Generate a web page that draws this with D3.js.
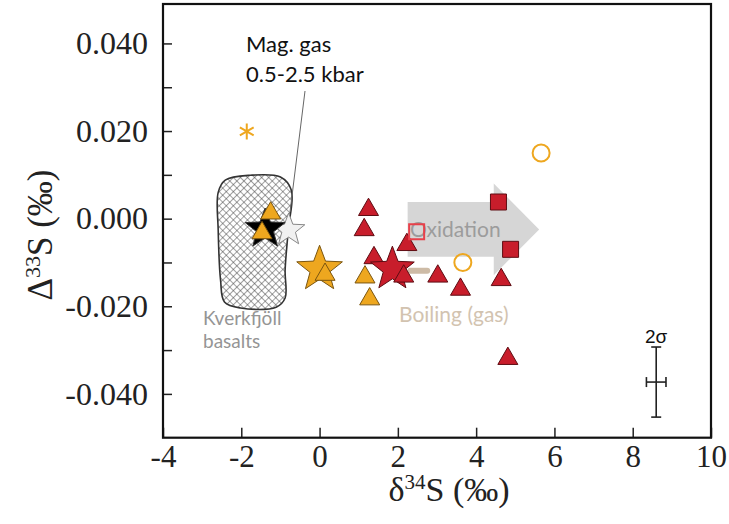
<!DOCTYPE html>
<html>
<head>
<meta charset="utf-8">
<script src="https://cdn.jsdelivr.net/npm/d3@7"></script>
<style>
  body { margin: 0; background: #fff; }
  svg { display: block; }
</style>
</head>
<body>
<div id="chart"></div>
<script>
// d34S vs D33S scatter
var xTicks = [-4, -2, 0, 2, 4, 6, 8, 10],
    yTicks = [0.04, 0.02, 0, -0.02, -0.04],
    yMinor = [0.03, 0.01, -0.01, -0.03];

var orangeTri = [[-1.25, 0.0019], [-1.47, -0.0026], [0.14, -0.0121], [1.16, -0.0127], [1.28, -0.0177]];
var redTri = [[1.25, 0.0027], [1.14, -0.0019], [1.39, -0.0083], [2.23, -0.0053], [3.02, -0.0125],
              [3.60, -0.0155], [4.64, -0.0133], [4.81, -0.0313]];
var redTriFront = [[2.15, -0.0125]];
var orangeStar = [[0.0, -0.011]];
var redStar = [[1.86, -0.011]];
var magGasBlack = [[-1.39, -0.0019]];
var magGasWhite = [[-0.79, -0.0022]];
var redSquare = [[4.57, 0.0038], [4.88, -0.0070]];
var redOpenSquare = [[2.48, -0.0030]];
var orangeCircle = [[5.66, 0.0150], [3.66, -0.0100]];
var orangeAsterisk = [[-1.86, 0.0199]];

// Kverkfjoll basalt field outline
var basaltField = [[-2.41, 0.0088], [-1.77, 0.0099], [-1.00, 0.0095], [-0.72, 0.0065], [-0.80, -0.0026],
                   [-0.88, -0.0117], [-0.88, -0.0181], [-1.11, -0.0202], [-2.02, -0.0204], [-2.43, -0.0190],
                   [-2.53, -0.0140], [-2.59, -0.0026], [-2.59, 0.0060]];
var oxidationArrow = [[2.25, 0.0038], [4.45, 0.0038], [4.45, 0.0080], [5.61, -0.0025],
                      [4.45, -0.0129], [4.45, -0.0087], [2.25, -0.0087]];
var boilingSeg = [[2.32, -0.0119], [2.75, -0.0119]];
// 2 sigma error
var errBar = {x: 8.6, y: -0.0373, sx: 0.25, sy: 0.008};

var width = 729, height = 524;

var svg = d3.select("#chart").append("svg")
    .attr("width", width)
    .attr("height", height);

var x = d3.scaleLinear().domain([-4, 10]).range([163, 711]),
    y = d3.scaleLinear().domain([-0.05, 0.049]).range([437.7, 4]);

var defs = svg.append("defs");
var pat = defs.append("pattern")
    .attr("id", "hatch")
    .attr("patternUnits", "userSpaceOnUse")
    .attr("width", 5).attr("height", 5)
    .attr("patternTransform", "rotate(45)");
pat.append("rect").attr("width", 5).attr("height", 5).attr("fill", "#fff");
pat.append("path").attr("d", "M0,0H5M0,0V5").attr("stroke", "#444").attr("stroke-width", 1);

var sans = "Lato, 'Open Sans', sans-serif",
    serif = "'Liberation Serif', 'Times New Roman', serif";

// basalt field
svg.append("path")
    .datum(basaltField)
    .attr("d", d3.line().x(function(d) { return x(d[0]); }).y(function(d) { return y(d[1]); })
        .curve(d3.curveCatmullRomClosed.alpha(0.5)))
    .attr("fill", "url(#hatch)")
    .attr("stroke", "#333")
    .attr("stroke-width", 1.6);

svg.append("text").attr("x", 203).attr("y", 325)
    .style("font-family", sans).style("font-size", "19px").attr("fill", "#959595")
    .text("Kverkfjöll");
svg.append("text").attr("x", 203).attr("y", 348)
    .style("font-family", sans).style("font-size", "19px").attr("fill", "#959595")
    .text("basalts");

// oxidation arrow
svg.append("path")
    .datum(oxidationArrow)
    .attr("d", d3.line().x(function(d) { return x(d[0]); }).y(function(d) { return y(d[1]); }))
    .attr("fill", "#d2d2d2")
    .attr("opacity", 0.9);
svg.append("text").attr("x", 410).attr("y", 237)
    .style("font-family", sans).style("font-size", "21px").attr("fill", "#9c9c9c")
    .text("Oxidation");

// boiling
svg.append("path")
    .datum(boilingSeg)
    .attr("d", d3.line().x(function(d) { return x(d[0]); }).y(function(d) { return y(d[1]); }))
    .attr("stroke", "#cdbba6").attr("stroke-width", 6).attr("stroke-linecap", "round");
svg.append("text").attr("x", 399).attr("y", 322)
    .style("font-family", sans).style("font-size", "21px").attr("fill", "#d2c3b0")
    .text("Boiling (gas)");

// mag gas label
svg.append("line")
    .attr("x1", 305).attr("y1", 91).attr("x2", 290).attr("y2", 212)
    .attr("stroke", "#666").attr("stroke-width", 1);
svg.append("text").attr("x", 246).attr("y", 52)
    .style("font-family", sans).style("font-size", "22px").attr("fill", "#111")
    .text("Mag. gas");
svg.append("text").attr("x", 246).attr("y", 82)
    .style("font-family", sans).style("font-size", "22px").attr("fill", "#111")
    .text("0.5-2.5 kbar");

// marker shapes
function starPath(R) {
  var r = R * 0.42, p = [];
  for (var i = 0; i < 10; i++) {
    var a = -Math.PI / 2 + i * Math.PI / 5, rr = i % 2 ? r : R;
    p.push([rr * Math.cos(a), rr * Math.sin(a) + R * 0.1]);
  }
  return "M" + p.join("L") + "Z";
}
function triPath(s) {
  var h = s * Math.sqrt(3) / 2;
  return "M0," + (-h / 2) + "L" + (s / 2) + "," + (h / 2) + "L" + (-s / 2) + "," + (h / 2) + "Z";
}
function squarePath(s) {
  return "M" + (-s / 2) + "," + (-s / 2) + "h" + s + "v" + s + "h" + (-s) + "Z";
}

var orange = "#eea71f", orangeEdge = "#7a5510",
    red = "#c81d2b", redEdge = "#5e0c12";

function marks(data, d, fill, stroke, sw) {
  svg.append("g").selectAll("path")
    .data(data)
    .enter().append("path")
      .attr("transform", function(p) { return "translate(" + x(p[0]) + "," + y(p[1]) + ")"; })
      .attr("d", d)
      .attr("fill", fill)
      .attr("stroke", stroke)
      .attr("stroke-width", sw);
}

marks(magGasWhite, starPath(17), "#f1f1f1", "#888", 1);
marks(magGasBlack, starPath(21), "#000", "#333", 1);
marks(orangeTri.slice(0, 2), triPath(20), orange, orangeEdge, 1);
marks(orangeStar, starPath(24), orange, orangeEdge, 1);
marks(orangeTri.slice(2), triPath(20), orange, orangeEdge, 1);
marks(redTri, triPath(20), red, redEdge, 1);
marks(redStar, starPath(23), red, redEdge, 1);
marks(redTriFront, triPath(20), red, redEdge, 1);
marks(redSquare, squarePath(16), red, redEdge, 1);
marks(redOpenSquare, squarePath(15), "none", "#e8404a", 2);

svg.append("g").selectAll("circle")
  .data(orangeCircle)
  .enter().append("circle")
    .attr("cx", function(p) { return x(p[0]); })
    .attr("cy", function(p) { return y(p[1]); })
    .attr("r", 8.5)
    .attr("fill", "none")
    .attr("stroke", orange)
    .attr("stroke-width", 2);

marks(orangeAsterisk,
  "M0,-8V8M-6.9,-4L6.9,4M-6.9,4L6.9,-4", "none", orange, 2);

// 2 sigma bar
var eb = svg.append("g").attr("stroke", "#222").attr("stroke-width", 1.6);
eb.append("line").attr("x1", x(errBar.x)).attr("x2", x(errBar.x))
    .attr("y1", y(errBar.y + errBar.sy)).attr("y2", y(errBar.y - errBar.sy));
eb.append("line").attr("x1", x(errBar.x) - 5).attr("x2", x(errBar.x) + 5)
    .attr("y1", y(errBar.y + errBar.sy)).attr("y2", y(errBar.y + errBar.sy));
eb.append("line").attr("x1", x(errBar.x) - 5).attr("x2", x(errBar.x) + 5)
    .attr("y1", y(errBar.y - errBar.sy)).attr("y2", y(errBar.y - errBar.sy));
eb.append("line").attr("x1", x(errBar.x - errBar.sx)).attr("x2", x(errBar.x + errBar.sx))
    .attr("y1", y(errBar.y)).attr("y2", y(errBar.y));
eb.append("line").attr("x1", x(errBar.x - errBar.sx)).attr("x2", x(errBar.x - errBar.sx))
    .attr("y1", y(errBar.y) - 5).attr("y2", y(errBar.y) + 5);
eb.append("line").attr("x1", x(errBar.x + errBar.sx)).attr("x2", x(errBar.x + errBar.sx))
    .attr("y1", y(errBar.y) - 5).attr("y2", y(errBar.y) + 5);
svg.append("text").attr("x", x(errBar.x)).attr("y", 343)
    .attr("text-anchor", "middle")
    .style("font-family", "'Liberation Sans', Arial, sans-serif").style("font-size", "19px")
    .attr("fill", "#111")
    .text("2σ");

// axes
svg.append("g")
    .attr("transform", "translate(163,0)")
    .call(d3.axisLeft(y).tickValues(yTicks).tickSizeInner(-9).tickSizeOuter(0).tickPadding(15)
        .tickFormat(function(d) { return d.toFixed(3); }))
    .call(function(g) { g.select(".domain").remove(); })
    .style("font-family", serif).style("font-size", "32px")
    .call(function(g) { g.selectAll("line").attr("stroke", "#222").attr("stroke-width", 1.5); })
    .call(function(g) { g.selectAll("text").attr("fill", "#222"); });

svg.append("g")
    .attr("transform", "translate(163,0)")
    .call(d3.axisLeft(y).tickValues(yMinor).tickSizeInner(-9).tickSizeOuter(0).tickFormat(""))
    .call(function(g) { g.select(".domain").remove(); })
    .call(function(g) { g.selectAll("line").attr("stroke", "#222").attr("stroke-width", 1.5); });

svg.append("g")
    .attr("transform", "translate(0,437.7)")
    .call(d3.axisBottom(x).tickValues(xTicks).tickSizeInner(-10).tickSizeOuter(0).tickPadding(7)
        .tickFormat(function(d) { return String(d); }))
    .call(function(g) { g.select(".domain").remove(); })
    .style("font-family", serif).style("font-size", "31px")
    .call(function(g) { g.selectAll("line").attr("stroke", "#222").attr("stroke-width", 1.5); })
    .call(function(g) { g.selectAll("text").attr("fill", "#222"); });

// frame
svg.append("rect")
    .attr("x", 163).attr("y", 4)
    .attr("width", 711 - 163).attr("height", 437.7 - 4)
    .attr("fill", "none")
    .attr("stroke", "#111")
    .attr("stroke-width", 2.2);

// axis titles
var xt = svg.append("text")
    .attr("x", 449).attr("y", 501)
    .attr("text-anchor", "middle")
    .style("font-family", serif).style("font-size", "34px").attr("fill", "#222");
xt.append("tspan").text("δ");
xt.append("tspan").attr("dy", -12).style("font-size", "21px").text("34");
xt.append("tspan").attr("dy", 12).text("S (‰)");

var yt = svg.append("text")
    .attr("transform", "translate(52,235) rotate(-90)")
    .attr("text-anchor", "middle")
    .style("font-family", serif).style("font-size", "35px").attr("fill", "#222");
yt.append("tspan").text("Δ");
yt.append("tspan").attr("dy", -12).style("font-size", "22px").text("33");
yt.append("tspan").attr("dy", 12).text("S (‰)");
</script>
</body>
</html>
